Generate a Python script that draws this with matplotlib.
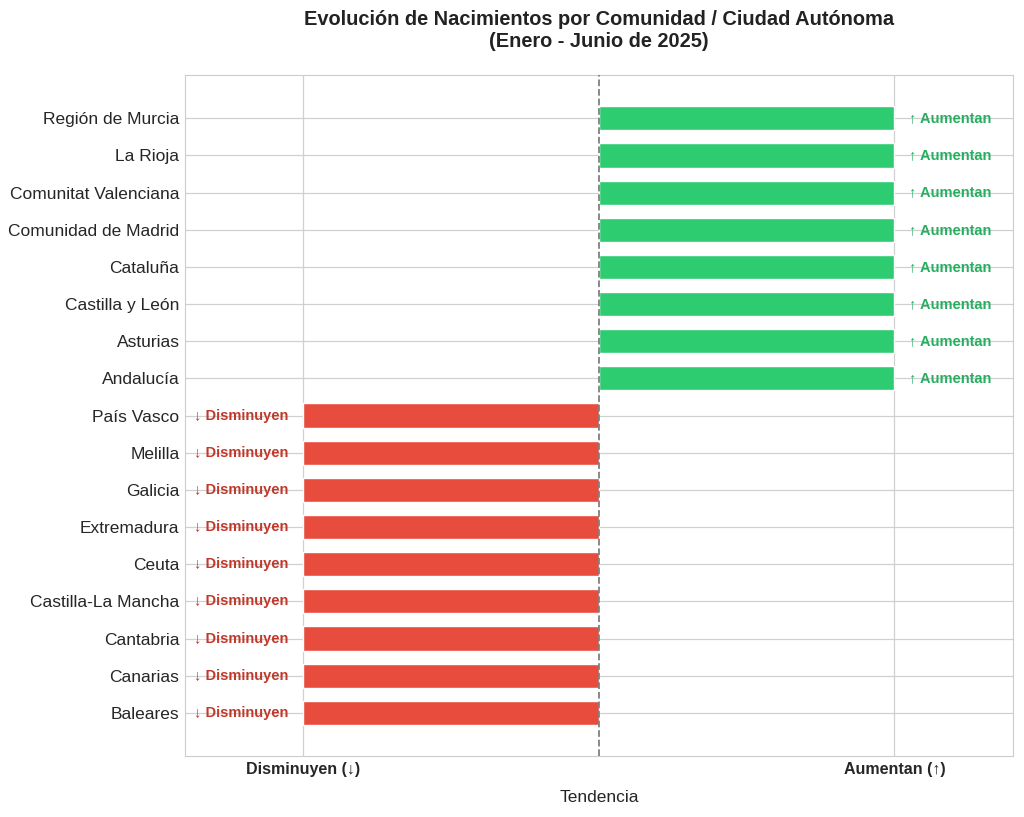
import matplotlib.pyplot as plt
import seaborn as sns

# Comunidades ordenadas de abajo arriba
comunidades = ["Baleares", "Canarias", "Cantabria", "Castilla-La Mancha", "Ceuta",
               "Extremadura", "Galicia", "Melilla", "País Vasco",
               "Andalucía", "Asturias", "Castilla y León", "Cataluña",
               "Comunidad de Madrid", "Comunitat Valenciana", "La Rioja", "Región de Murcia"]
tendencia = [-1, -1, -1, -1, -1, -1, -1, -1, -1,
             1, 1, 1, 1, 1, 1, 1, 1]
tick_vals = [-1, 1]
tick_labels = ["Disminuyen (↓)", "Aumentan (↑)"]

sns.set_style("whitegrid")
plt.rcParams['font.family'] = ['Liberation Sans', 'DejaVu Sans']

fig = plt.figure(figsize=(10.24, 8.17), dpi=100)
ax = fig.add_axes([0.1807, 0.0747, 0.8083, 0.8333])

colores = ['#2ecc71' if v > 0 else '#e74c3c' for v in tendencia]
ypos = range(len(comunidades))
ax.barh(ypos, tendencia, height=0.65, color=colores, zorder=3)

for y, v in zip(ypos, tendencia):
    if v > 0:
        ax.text(v + 0.05, y, "↑ Aumentan", ha='left', va='center',
                color='#27ae60', fontsize=10.5, fontweight='bold', zorder=4)
    else:
        ax.text(v - 0.05, y, "↓ Disminuyen", ha='right', va='center',
                color='#c0392b', fontsize=10.5, fontweight='bold', zorder=4)

ax.axvline(0, color='gray', linestyle='--', linewidth=1.3, zorder=4)

ax.set_yticks(list(ypos))
ax.set_yticklabels(comunidades, fontsize=12.5)
ax.set_xticks(tick_vals)
ax.set_xticklabels(tick_labels, fontsize=11.5, fontweight='bold')
ax.set_xlim(-1.4, 1.4)
ax.set_ylim(-1.16, len(comunidades) - 1 + 1.16)
ax.set_xlabel("Tendencia", fontsize=12.5, labelpad=10)
ax.tick_params(axis='both', length=0, pad=4)
for s in ax.spines.values():
    s.set_color('#cccccc')
ax.grid(True, color='#d0d0d0', linewidth=0.9, zorder=0)

fig.suptitle("Evolución de Nacimientos por Comunidad / Ciudad Autónoma\n(Enero - Junio de 2025)",
             x=0.585, y=0.988, fontsize=14.4, fontweight='bold', color='#222222')

fig.savefig("out.png", dpi=100)
